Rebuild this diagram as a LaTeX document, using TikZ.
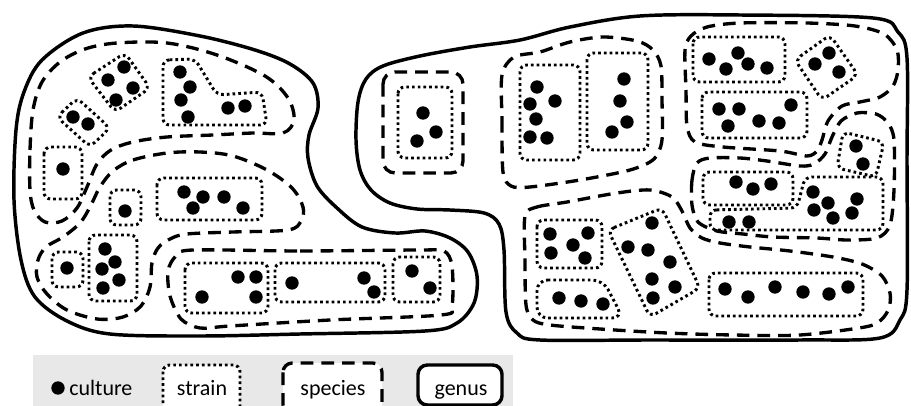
\documentclass[tikz,border=0pt]{standalone}
\usepackage{fontspec}
\setmainfont{Carlito}
\newcommand\culturedots[1]{\foreach \p in {#1} {\fill \p circle[radius=5pt];}}
\tikzset{
  genusline/.style={line width=2.6pt, line join=round},
  speciesline/.style={line width=2.5pt, dash pattern=on 9.5pt off 6pt},
  strainline/.style={line width=2.2pt, dash pattern=on 2pt off 2.3pt},
  lbl/.style={font=\fontsize{16.5pt}{18pt}\selectfont, inner sep=0pt, anchor=base}
}
\begin{document}
\begin{tikzpicture}[x=0.75pt,y=-0.75pt]
\useasboundingbox (0,0) rectangle (911,406);
\clip (0,0) rectangle (911,406);
\fill[white] (0,0) rectangle (911,406);

% ---------- genus outlines ----------
\draw[genusline] plot[smooth cycle, tension=0.55] coordinates {
 (14,200) (16,130) (24,92) (42,60) (83,33) (133,26) (200,36) (255,50) (290,64)
 (313,83) (318,108) (309,135) (308,158) (317,186) (337,208) (362,227) (395,233)
 (425,231) (450,238) (468,252) (477,276) (474,303) (457,323) (425,331) (300,334)
 (200,336) (110,334) (67,321) (35,297) (21,260)};
\draw[genusline] plot[smooth cycle, tension=0.55] coordinates {
 (356,140) (358,102) (366,79) (383,66) (420,56) (470,47) (520,40) (570,27)
 (640,16) (740,15) (873,18) (898,32) (907,58) (907,160) (907,290) (900,320)
 (880,338) (800,340) (650,340) (540,340) (517,333) (506,312) (504,250)
 (499,224) (484,213) (450,210) (417,209) (390,203) (371,190) (360,170)};

% ---------- species (left genus) ----------
\draw[speciesline] plot[smooth cycle, tension=0.55] coordinates {
 (30,190) (30,150) (33,110) (42,82) (60,62) (85,49) (117,43) (167,43) (217,55)
 (265,76) (288,98) (294,120) (283,133) (253,133) (213,135) (167,137) (133,142)
 (111,150) (97,164) (87,187) (77,208) (62,221) (45,222) (34,210)};
\draw[speciesline] plot[smooth cycle, tension=0.55] coordinates {
 (113,171) (133,160) (167,153) (200,152) (233,156) (267,170) (292,188) (303,207)
 (301,221) (288,230) (233,232) (187,234) (170,239) (158,248) (152,263) (150,287)
 (141,306) (123,317) (97,319) (67,310) (47,294) (37,277) (38,260) (46,247)
 (63,237) (80,223) (90,207) (100,187)};
\draw[speciesline] plot[smooth cycle, tension=0.5] coordinates {
 (193,250) (300,251) (420,250) (444,251) (452,266) (452,306) (441,315)
 (330,320) (230,326) (200,328) (181,319) (170,296) (168,271) (176,256)};

% ---------- species (right genus) ----------
\draw[speciesline, rounded corners=9pt] (383,72) rectangle (463,173);
\draw[speciesline] plot[smooth cycle, tension=0.5] coordinates {
 (502,75) (502,120) (503,172) (511,186) (530,187) (580,180) (630,170) (654,159)
 (662,140) (662,100) (661,66) (653,50) (637,41) (603,37) (570,42) (540,52) (514,57)};
\draw[speciesline] plot[smooth cycle, tension=0.5] coordinates {
 (685,50) (686,90) (687,126) (695,142) (723,147) (780,151) (807,156) (817,151)
 (822,140) (828,121) (842,106) (860,102) (880,97) (893,86) (898,70) (897,50)
 (884,34) (855,26) (807,23) (740,23) (707,27) (691,36)};
\draw[speciesline] plot[smooth cycle, tension=0.5] coordinates {
 (697,163) (692,180) (692,205) (698,222) (717,231) (743,234) (773,237) (817,238)
 (847,240) (877,238) (890,225) (894,190) (894,140) (888,123) (876,114) (857,113)
 (841,121) (832,137) (825,154) (814,164) (800,166) (767,161) (740,158) (710,158)};
\draw[speciesline] plot[smooth cycle, tension=0.5] coordinates {
 (525,216) (537,207) (567,202) (617,193) (650,190) (672,197) (682,211) (690,228)
 (702,238) (720,243) (750,247) (790,251) (833,257) (862,264) (882,276) (890,293)
 (889,308) (881,320) (865,327) (800,335) (733,335) (667,333) (600,329) (550,325)
 (533,320) (526,305) (525,260)};

% ---------- strains ----------
\begin{scope}[strainline, rounded corners=5pt]
\draw (88,77) -- (125,53) -- (150,88) -- (115,112) -- cycle;
\draw (57,117) -- (77,98) -- (110,128) -- (90,147) -- cycle;
\draw (163,60) -- (195,59) -- (217,95) -- (262,92) -- (267,125) -- (163,125) -- cycle;
\draw (44,147) rectangle (82,199);
\draw (110,190) rectangle (141,225);
\draw (157,178) rectangle (262,220);
\draw (52,252) rectangle (83,287);
\draw (89,235) rectangle (137,301);
\draw (185,263) rectangle (268,313);
\draw (275,263) rectangle (385,302);
\draw (393,257) rectangle (440,302);
\draw (398,87) rectangle (452,158);
\draw (520,65) rectangle (580,160);
\draw (587,53) rectangle (648,150);
\draw (693,37) rectangle (785,82);
\draw (702,92) rectangle (807,138);
\draw (795,60) -- (830,35) -- (858,75) -- (822,100) -- cycle;
\draw (703,172) rectangle (793,205);
\draw (710,210) -- (797,208) -- (805,177) -- (883,177) -- (883,230) -- (710,230) -- cycle;
\draw (843,132) -- (884,142) -- (876,177) -- (837,168) -- cycle;
\draw (537,220) rectangle (602,268);
\draw[rounded corners=8pt] (537,280) -- (603,280) -- (623,318) -- (537,318) -- cycle;
\draw (608,230) -- (662,208) -- (700,288) -- (650,317) -- cycle;
\draw (709,273) rectangle (863,316);
\end{scope}

% ---------- cultures ----------
\culturedots{(124,67),(108,80),(133,88),(116,100)}
\culturedots{(73,117),(88,124)}
\culturedots{(180,72),(190,87),(181,100),(188,117),(228,108),(245,106)}
\culturedots{(63,169)}
\culturedots{(125,211)}
\culturedots{(184,192),(203,197),(224,197),(193,208),(243,208)}
\culturedots{(67,268)}
\culturedots{(105,249),(115,262),(102,269),(119,280),(103,288)}
\culturedots{(238,277),(256,277),(202,297),(256,297)}
\culturedots{(292,283),(364,278),(374,292)}
\culturedots{(412,271),(430,288)}
\culturedots{(423,113),(436,132),(417,141)}
\culturedots{(537,87),(530,104),(555,101),(536,119),(530,137),(547,138)}
\culturedots{(624,79),(620,101),(627,122),(612,132)}
\culturedots{(709,59),(738,53),(726,69),(748,64),(767,68)}
\culturedots{(719,109),(739,109),(728,126),(759,121),(779,123),(791,105)}
\culturedots{(829,53),(815,64),(839,72)}
\culturedots{(736,182),(753,189),(771,184)}
\culturedots{(729,222),(749,222),(813,192),(828,203),(814,210),(833,218),(857,199),(852,213)}
\culturedots{(856,146),(863,164)}
\culturedots{(550,234),(588,233),(573,245),(551,253),(585,258)}
\culturedots{(559,298),(581,301),(603,304)}
\culturedots{(652,223),(628,247),(648,250),(670,262),(652,279),(675,287),(653,298)}
\culturedots{(725,289),(748,297),(775,287),(803,292),(829,294),(848,287)}

% ---------- legend ----------
\fill[black!9] (33,355) rectangle (513,410);
\fill (58,388) circle[radius=5pt];
\node[lbl, anchor=base west] (lculture) at (69,395) {culture};
\draw[strainline, fill=white, rounded corners=5pt] (163,365) rectangle (240,414);
\node[lbl] (lstrain) at (202,395) {strain};
\draw[speciesline, fill=white, rounded corners=7pt] (283,363) rectangle (382,414);
\node[lbl] (lspecies) at (333,395) {species};
\draw[genusline, fill=white, rounded corners=7pt] (418,365) rectangle (502,405);
\node[lbl] (lgenus) at (461,395) {genus};
\end{tikzpicture}
\end{document}
